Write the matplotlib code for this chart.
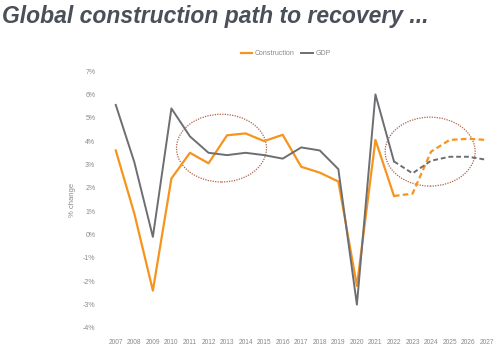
import matplotlib.pyplot as plt
from matplotlib.patches import Ellipse

years = list(range(2007, 2028))
construction = [3.6, 0.9, -2.4, 2.4, 3.5, 3.05, 4.25, 4.33, 4.0, 4.27, 2.9,
                2.65, 2.27, -2.2, 4.05, 1.65, 1.75, 3.55, 4.05, 4.1, 4.05]
gdp = [5.55, 3.1, -0.1, 5.4, 4.2, 3.5, 3.4, 3.5, 3.4, 3.25, 3.73,
       3.6, 2.8, -3.0, 6.0, 3.13, 2.62, 3.16, 3.33, 3.33, 3.2]
forecast_start = 2022
yticks = list(range(-4, 8))

orange = "#f7941d"
grey = "#6d6e71"
circle_col = "#b0634a"
txt_col = "#8a8a8a"
small = ["Liberation Sans", "DejaVu Sans"]

fig = plt.figure(figsize=(5, 3.5), dpi=100)
ax = fig.add_axes([0.213, 0.063, 0.779, 0.734])

k = years.index(forecast_start)
ax.plot(years[:k + 1], construction[:k + 1], color=orange, lw=1.6, label="Construction")
ax.plot(years[k:], construction[k:], color=orange, lw=1.6, ls=(0, (2.5, 1.5)))
ax.plot(years[:k + 1], gdp[:k + 1], color=grey, lw=1.4, label="GDP")
ax.plot(years[k:], gdp[k:], color=grey, lw=1.4, ls=(0, (2.5, 1.5)))

ax.add_patch(Ellipse((2012.7, 3.7), 4.85, 2.9, fill=False, ec=circle_col,
                     lw=0.9, ls=(0, (1, 1))))
ax.add_patch(Ellipse((2023.95, 3.55), 4.85, 2.95, fill=False, ec=circle_col,
                     lw=0.9, ls=(0, (1, 1))))

ax.set_xlim(2006.5, 2027.5)
ax.set_ylim(-4, 7)
ax.set_xticks(years)
ax.set_xticklabels([str(y) for y in years], family=small, fontsize=4.8, color=txt_col)
ax.set_yticks(yticks)
ax.set_yticklabels([f"{t}%" for t in yticks], family=small, fontsize=5, color=txt_col)
ax.tick_params(length=0, pad=8)
for s in ax.spines.values():
    s.set_visible(False)
ax.set_ylabel("% change", family=small, fontsize=5.5, color=txt_col, labelpad=5)

leg = ax.legend(loc="lower center", bbox_to_anchor=(0.46, 1.03), ncol=2, frameon=False,
                prop={"family": small, "size": 5}, handlelength=1.7,
                handletextpad=0.3, columnspacing=1.0)
for t in leg.get_texts():
    t.set_color(txt_col)

fig.text(0.003, 0.985, "Global construction path to recovery ...", ha="left", va="top",
         fontsize=16.5, fontweight="bold", fontstyle="italic", color="#4a5059",
         family=["Liberation Sans", "DejaVu Sans"])

fig.savefig("out.png", dpi=100)
